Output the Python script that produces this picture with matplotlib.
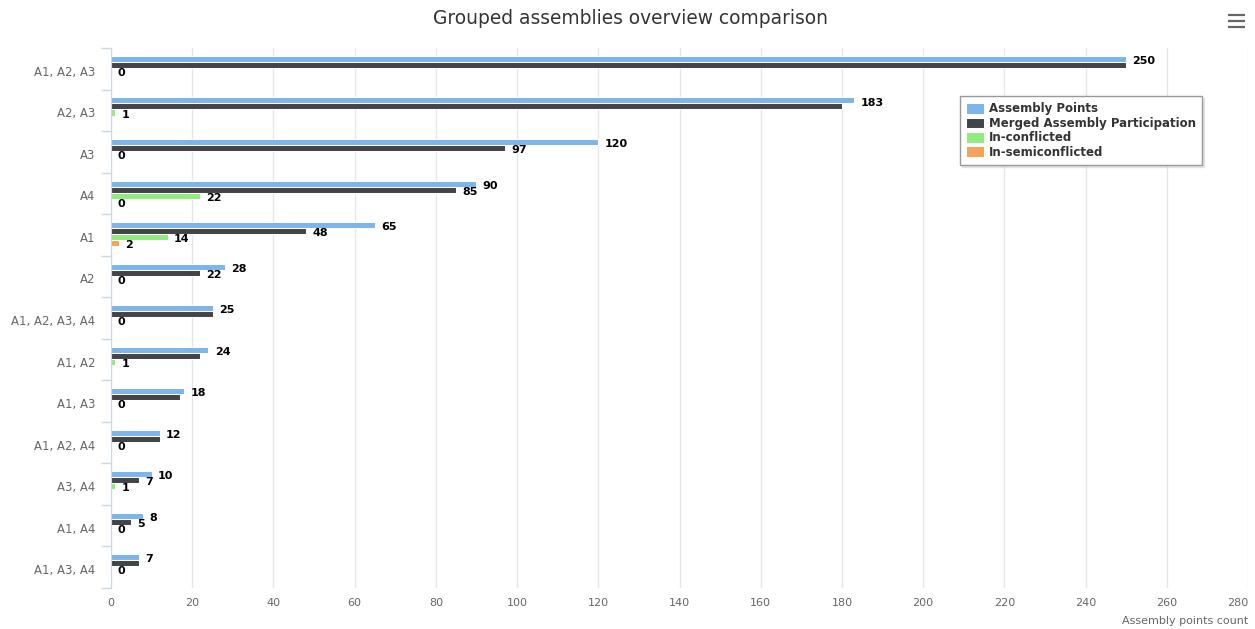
import matplotlib.pyplot as plt
from matplotlib.lines import Line2D
from matplotlib.transforms import ScaledTranslation
import numpy as np

categories = ['A1, A2, A3', 'A2, A3', 'A3', 'A4', 'A1', 'A2', 'A1, A2, A3, A4',
              'A1, A2', 'A1, A3', 'A1, A2, A4', 'A3, A4', 'A1, A4', 'A1, A3, A4']
assembly_points = [250, 183, 120, 90, 65, 28, 25, 24, 18, 12, 10, 8, 7]
merged_participation = [250, 180, 97, 85, 48, 22, 25, 22, 17, 12, 7, 5, 7]
in_conflicted = [0, 1, 0, 22, 14, 0, 0, 1, 0, 0, 1, 0, 0]
in_semiconflicted = [0, 0, 0, 0, 2, 0, 0, 0, 0, 0, 0, 0, 0]

series = [
    ('Assembly Points', assembly_points, '#7cb5ec'),
    ('Merged Assembly Participation', merged_participation, '#434348'),
    ('In-conflicted', in_conflicted, '#90ed7d'),
    ('In-semiconflicted', in_semiconflicted, '#f7a35c'),
]

fig = plt.figure(figsize=(12.55, 6.29), dpi=100)
ax = fig.add_axes([111 / 1255, 1 - 588 / 629, (1248 - 111) / 1255, (588 - 48) / 629])

y = np.arange(len(categories))
slot = 0.145
for j, (name, vals, col) in enumerate(series):
    pos = y - 0.31 + slot * (j + 0.5)
    ax.barh(pos, vals, height=slot, color=col, edgecolor='white', linewidth=0.75,
            label=name, zorder=3)

ax.set_xlim(0, 280)
ax.set_ylim(len(categories) - 0.5, -0.5)
ax.set_xticks(np.arange(0, 281, 20))
ax.set_yticks(y)
ax.set_yticklabels(categories)
ax.set_yticks(np.arange(-0.5, len(categories)), minor=True)
ax.tick_params(axis='y', which='major', length=0, pad=11.5, labelsize=8.4, labelcolor='#666666')
ax.tick_params(axis='y', which='minor', length=7.5, width=1, color='#ccd6eb')
ax.tick_params(axis='x', length=0, pad=7, labelsize=8, labelcolor='#666666')
ax.get_xticklabels()[-1].set_ha('right')
for lab in ax.get_yticklabels():
    lab.set_transform(lab.get_transform() + ScaledTranslation(0, -0.02, fig.dpi_scale_trans))
ax.grid(axis='x', color='#e6e6e6', linewidth=1, zorder=0)
for s in ['top', 'right', 'bottom']:
    ax.spines[s].set_visible(False)
ax.spines['left'].set_color('#ccd6eb')
ax.spines['left'].set_zorder(4)
ax.set_xlabel('Assembly points count', loc='right', fontsize=8, color='#666666', labelpad=6)

# data labels, hide ones that collide (like highcharts)
texts = []
for j, (name, vals, col) in enumerate(series):
    pos = y - 0.31 + slot * (j + 0.5)
    for i, v in enumerate(vals):
        t = ax.annotate(str(v), xy=(v, pos[i]), xytext=(4.5, -1.5), textcoords='offset points',
                        ha='left', va='center', fontsize=8, fontweight='bold', color='black',
                        zorder=5)
        texts.append(t)

fig.canvas.draw()
r = fig.canvas.get_renderer()
kept = []
for t in texts:
    bb = t.get_window_extent(r).expanded(1.0, 0.85)
    if any(bb.overlaps(k) for k in kept):
        t.set_visible(False)
    else:
        kept.append(bb)

fig.text(0.502, 1 - 18 / 629, 'Grouped assemblies overview comparison', ha='center', va='center',
         fontsize=13.4, color='#333333')

leg = ax.legend(loc='upper left', bbox_to_anchor=(960 / 1255, 1 - 96 / 629),
                bbox_transform=fig.transFigure, borderaxespad=0, fancybox=False,
                shadow={'ox': 1.5, 'oy': -1.5, 'color': '#d0d0d0'},
                edgecolor='#999999', framealpha=1, prop={'weight': 'bold', 'size': 8.5},
                handlelength=1.45, handleheight=1.0, handletextpad=0.45, labelspacing=0.12,
                borderpad=0.55)
leg.get_frame().set_linewidth(1)
for txt in leg.get_texts():
    txt.set_color('#333333')

# menu icon
for yy in [15, 21, 27]:
    fig.add_artist(Line2D([1228 / 1255, 1245 / 1255], [1 - yy / 629] * 2, color='#666666',
                          linewidth=1.6, solid_capstyle='butt'))

fig.savefig('out.png', dpi=100)
